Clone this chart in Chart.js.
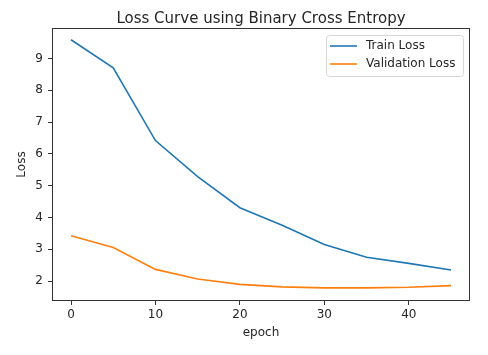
<!DOCTYPE html>
<html>
<head>
<meta charset="utf-8">
<script src="https://cdn.jsdelivr.net/npm/chart.js@4"></script>
<style>
html,body{margin:0;padding:0;background:#fff;}
#wrap{width:488px;height:355px;}
</style>
</head>
<body>
<div id="wrap"><canvas id="c" width="488" height="355"></canvas></div>
<script>
const epochs = [0, 5, 10, 15, 20, 25, 30, 35, 40, 45];
const trainLoss = [9.59, 8.71, 6.42, 5.29, 4.31, 3.76, 3.15, 2.75, 2.56, 2.35];
const valLoss = [3.43, 3.06, 2.37, 2.07, 1.90, 1.82, 1.79, 1.79, 1.81, 1.86];
const xTicks = [0, 10, 20, 30, 40];
const yTicks = [2, 3, 4, 5, 6, 7, 8, 9];
const titleText = 'Loss Curve using Binary Cross Entropy';
const xLabel = 'epoch';
const yLabel = 'Loss';
const seriesNames = ['Train Loss', 'Validation Loss'];
const seriesColors = ['#1f77b4', '#ff7f0e'];

const FONT = '"DejaVu Sans", sans-serif';
const TXT = '#262626';
const TICK = 12;

const framePlugin = {
  id: 'frame',
  afterDraw(chart) {
    const ctx = chart.ctx, a = chart.chartArea;
    ctx.save();
    ctx.strokeStyle = '#333';
    ctx.lineWidth = 1;
    ctx.strokeRect(Math.round(a.left) + 0.5, Math.round(a.top) + 0.5, Math.round(a.right - a.left) - 1, Math.round(a.bottom - a.top) - 1);
    ctx.fillStyle = TXT;
    ctx.font = '15px ' + FONT;
    ctx.textAlign = 'center';
    ctx.textBaseline = 'alphabetic';
    ctx.fillText(titleText, (a.left + a.right) / 2, 22.5);
    ctx.font = TICK + 'px ' + FONT;
    ctx.textBaseline = 'middle';
    ctx.fillText(xLabel, (a.left + a.right) / 2, 333);
    ctx.save();
    ctx.translate(22, (a.top + a.bottom) / 2);
    ctx.rotate(-Math.PI / 2);
    ctx.fillText(yLabel, 0, 0);
    ctx.restore();
    const lx = 326, ly = 35, lw = 137, lh = 41;
    ctx.beginPath();
    if (ctx.roundRect) ctx.roundRect(lx + 0.5, ly + 0.5, lw, lh, 3); else ctx.rect(lx + 0.5, ly + 0.5, lw, lh);
    ctx.fillStyle = 'rgba(255,255,255,0.8)';
    ctx.fill();
    ctx.strokeStyle = '#d6d6d6';
    ctx.lineWidth = 1;
    ctx.stroke();
    chart.data.datasets.forEach((ds, i) => {
      const yy = 46 + i * 18;
      ctx.beginPath();
      ctx.strokeStyle = ds.borderColor;
      ctx.lineWidth = 1.6;
      ctx.moveTo(330, yy);
      ctx.lineTo(357, yy);
      ctx.stroke();
      ctx.fillStyle = TXT;
      ctx.font = TICK + 'px ' + FONT;
      ctx.textAlign = 'left';
      ctx.textBaseline = 'middle';
      ctx.fillText(ds.label, 366, yy);
    });
    ctx.restore();
  }
};

new Chart(document.getElementById('c'), {
  type: 'line',
  data: {
    datasets: [
      { label: seriesNames[0], data: epochs.map((e, i) => ({ x: e, y: trainLoss[i] })), borderColor: seriesColors[0], borderWidth: 1.6, pointRadius: 0, tension: 0, fill: false },
      { label: seriesNames[1], data: epochs.map((e, i) => ({ x: e, y: valLoss[i] })), borderColor: seriesColors[1], borderWidth: 1.6, pointRadius: 0, tension: 0, fill: false }
    ]
  },
  options: {
    responsive: false,
    devicePixelRatio: 1,
    animation: false,
    layout: { padding: { top: 28, right: 18, left: 0, bottom: 0 } },
    plugins: { legend: { display: false }, title: { display: false }, tooltip: { enabled: false } },
    scales: {
      x: {
        type: 'linear', min: -2.25, max: 47.25,
        afterBuildTicks(s) { s.ticks = xTicks.map(v => ({ value: v })); },
        afterFit(s) { s.height = 54; },
        grid: { drawOnChartArea: false, drawTicks: true, tickLength: 4, color: '#333' },
        border: { display: false },
        ticks: { color: TXT, font: { family: FONT, size: TICK }, padding: 3, maxRotation: 0, autoSkip: false }
      },
      y: {
        type: 'linear', min: 1.376, max: 9.96,
        afterBuildTicks(s) { s.ticks = yTicks.map(v => ({ value: v })); },
        afterFit(s) { s.width = 52; },
        grid: { drawOnChartArea: false, drawTicks: true, tickLength: 4, color: '#333' },
        border: { display: false },
        ticks: { color: TXT, font: { family: FONT, size: TICK }, padding: 5, autoSkip: false }
      }
    }
  },
  plugins: [framePlugin]
});
</script>
</body>
</html>
